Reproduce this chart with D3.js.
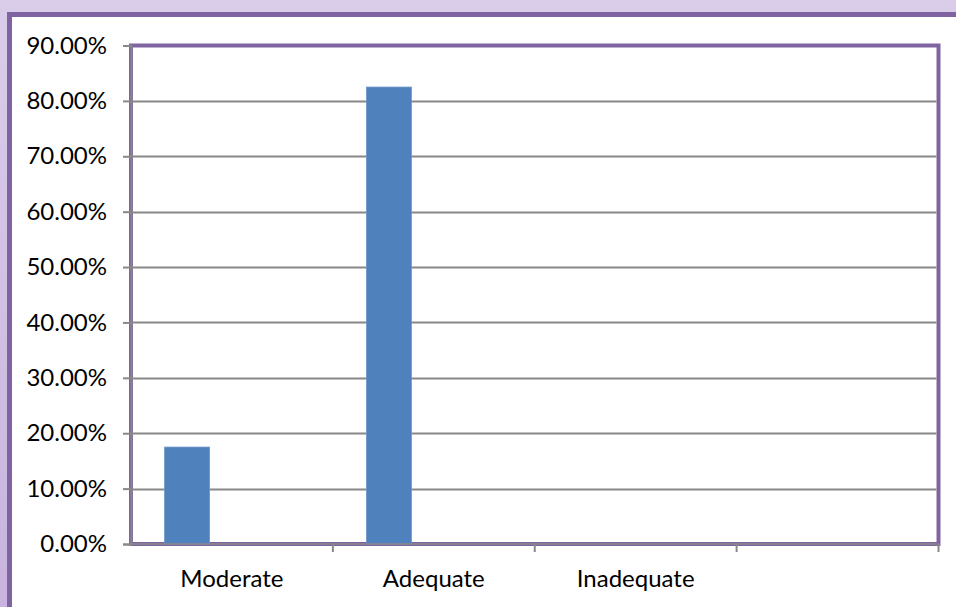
<!DOCTYPE html>
<html>
<head>
<meta charset="utf-8">
<script src="https://cdn.jsdelivr.net/npm/d3@7"></script>
<style>
  html, body { margin: 0; padding: 0; background: #fff; }
  svg { display: block; }
</style>
</head>
<body>
<svg id="chart"></svg>
<script>
// chart data
const categories = ["Moderate", "Adequate", "Inadequate", ""];
const seriesKeys = ["Series1", "Series2", "Series3"];
const series1 = [0.175, 0.825, 0, 0];
const yTicks = [0, 0.1, 0.2, 0.3, 0.4, 0.5, 0.6, 0.7, 0.8, 0.9];

const width = 956;
const height = 607;
const plot = { left: 131, top: 45.5, right: 938.5, bottom: 544 };
const purple = "#8064a2";
const gridGray = "#888888";
const fontFamily = "Lato, 'Open Sans', sans-serif";

const svg = d3.select("#chart")
  .attr("width", width)
  .attr("height", height);

// background gradient + outer frame
const defs = svg.append("defs");
const bg = defs.append("linearGradient")
  .attr("id", "bgGrad")
  .attr("x1", 0).attr("y1", 0).attr("x2", 0).attr("y2", 1);
bg.append("stop").attr("offset", "0%").attr("stop-color", "#d9cdea");
bg.append("stop").attr("offset", "100%").attr("stop-color", "#c8b4de");

svg.append("rect")
  .attr("width", width)
  .attr("height", height)
  .attr("fill", "url(#bgGrad)");

svg.append("rect")
  .attr("x", 9.5)
  .attr("y", 14.5)
  .attr("width", width + 20)
  .attr("height", height + 20)
  .attr("fill", "#ffffff")
  .attr("stroke", purple)
  .attr("stroke-width", 5);

// scales
const x = d3.scaleBand()
  .domain(categories.map((d, i) => i))
  .range([plot.left, plot.right])
  .paddingInner(0)
  .paddingOuter(0);

const xSub = d3.scaleBand()
  .domain(seriesKeys)
  .range([0, x.bandwidth()])
  .paddingInner(0)
  .paddingOuter(0.75);

const y = d3.scaleLinear()
  .domain([0, 0.9])
  .range([plot.bottom, plot.top]);

const g = svg.append("g");

// plot area border
g.append("rect")
  .attr("x", plot.left)
  .attr("y", plot.top)
  .attr("width", plot.right - plot.left)
  .attr("height", plot.bottom - plot.top)
  .attr("fill", "#ffffff")
  .attr("stroke", purple)
  .attr("stroke-width", 4);

// gridlines
g.append("g")
  .selectAll("line")
  .data(yTicks.filter(t => t > 0 && t < 0.9))
  .join("line")
  .attr("x1", plot.left)
  .attr("x2", plot.right - 2)
  .attr("y1", d => Math.round(y(d)) + 0.5)
  .attr("y2", d => Math.round(y(d)) + 0.5)
  .attr("stroke", gridGray)
  .attr("stroke-width", 2);

// bars (first series only carries values)
g.append("g")
  .selectAll("rect")
  .data(series1.map((v, i) => ({ i, v })).filter(d => d.v > 0))
  .join("rect")
  .attr("x", d => x(d.i) + xSub("Series1"))
  .attr("y", d => y(d.v))
  .attr("width", xSub.bandwidth())
  .attr("height", d => y(0) - y(d.v))
  .attr("fill", "#4f81bd")
  .attr("stroke", "#6a94c8")
  .attr("stroke-width", 0.8);

// y axis
const yAxis = d3.axisLeft(y)
  .tickValues(yTicks)
  .tickSize(8)
  .tickPadding(16)
  .tickFormat(d => (d * 100).toFixed(2) + "%");

const yG = g.append("g")
  .attr("transform", `translate(${plot.left},0)`)
  .call(yAxis);
yG.select(".domain").attr("stroke", gridGray).attr("stroke-width", 2);
yG.selectAll(".tick line").attr("stroke", gridGray).attr("stroke-width", 2);
yG.selectAll(".tick text")
  .attr("fill", "#000")
  .style("font-family", fontFamily)
  .style("font-size", "24px");

// x axis line + ticks at band edges
const xG = g.append("g");
xG.append("line")
  .attr("x1", plot.left).attr("x2", plot.right)
  .attr("y1", plot.bottom).attr("y2", plot.bottom)
  .attr("stroke", gridGray)
  .attr("stroke-width", 1.5);
xG.selectAll("line.tk")
  .data(categories.map((d, i) => i).slice(1).concat([categories.length]))
  .join("line")
  .attr("class", "tk")
  .attr("x1", i => (i < categories.length ? x(i) : plot.right))
  .attr("x2", i => (i < categories.length ? x(i) : plot.right))
  .attr("y1", plot.bottom)
  .attr("y2", plot.bottom + 8)
  .attr("stroke", gridGray)
  .attr("stroke-width", 2);

xG.selectAll("text")
  .data(categories)
  .join("text")
  .attr("x", (d, i) => x(i) + x.bandwidth() / 2)
  .attr("y", 587)
  .attr("text-anchor", "middle")
  .attr("fill", "#000")
  .style("font-family", fontFamily)
  .style("font-size", "24px")
  .text(d => d);
</script>
</body>
</html>
